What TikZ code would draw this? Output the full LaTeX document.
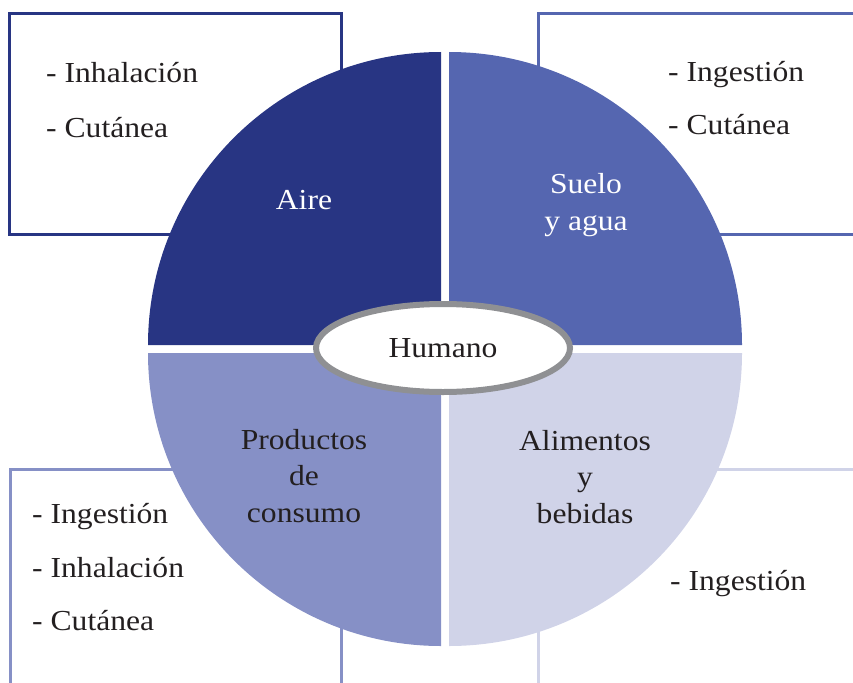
\documentclass[tikz,border=0pt]{standalone}
\usepackage{fontspec}
\setmainfont[FakeStretch=1.09]{Liberation Serif}
\usetikzlibrary{shapes.geometric}
\definecolor{aire}{HTML}{283583}
\definecolor{suelo}{HTML}{5566B0}
\definecolor{productos}{HTML}{8690C6}
\definecolor{alimentos}{HTML}{D0D3E8}
\definecolor{borde}{HTML}{8F9093}
\definecolor{texto}{HTML}{231F20}
\begin{document}
\begin{tikzpicture}[x=1pt,y=1pt,
	caja/.style={line width=3pt},
	via/.style={font=\fontsize{29}{34}\selectfont, text=texto, anchor=base west, inner sep=0pt},
	fuente/.style={font=\fontsize{29}{36.5}\selectfont, align=center, inner sep=0pt}]
	\useasboundingbox (0,0) rectangle (853,-682);
	\clip (0,0) rectangle (853,-682);
	% cajas de vias
	\draw[caja, aire] (9,-14) rectangle (341,-234);
	\draw[caja, suelo] (538,-14) rectangle (880,-234);
	\draw[caja, productos] (10,-469) rectangle (341,-700);
	\draw[caja, alimentos] (538,-469) rectangle (880,-700);
	% cuadrantes
	\fill[aire] (441,-345) -- ++(-293,0) arc[start angle=180, end angle=90, radius=293] -- cycle;
	\fill[suelo] (449,-345) -- ++(0,293) arc[start angle=90, end angle=0, radius=293] -- cycle;
	\fill[productos] (441,-353) -- ++(0,-293) arc[start angle=270, end angle=180, radius=293] -- cycle;
	\fill[alimentos] (449,-353) -- ++(293,0) arc[start angle=0, end angle=-90, radius=293] -- cycle;
	% fuentes
	\node[fuente, text=white] (aire) at (304,-200) {Aire};
	\node[fuente, text=white] (suelo) at (586,-205) {Suelo\\y agua};
	\node[fuente, text=texto] (productos) at (304,-476) {Productos\\de\\consumo};
	\node[fuente, text=texto] (alimentos) at (585,-477) {Alimentos\\y\\bebidas};
	% centro
	\node[ellipse, draw=borde, line width=6pt, fill=white, minimum width=254, minimum height=88,
		font=\fontsize{29}{34}\selectfont, text=texto] (humano) at (443,-348) {Humano};
	% vias
	\node[via] (aire1) at (46,-83) {- Inhalación};
	\node[via] (aire2) at (46,-137) {- Cutánea};
	\node[via] (suelo1) at (668,-82) {- Ingestión};
	\node[via] (suelo2) at (668,-135) {- Cutánea};
	\node[via] (productos1) at (32,-523) {- Ingestión};
	\node[via] (productos2) at (32,-577) {- Inhalación};
	\node[via] (productos3) at (32,-630) {- Cutánea};
	\node[via] (alimentos1) at (670,-590) {- Ingestión};
\end{tikzpicture}
\end{document}
